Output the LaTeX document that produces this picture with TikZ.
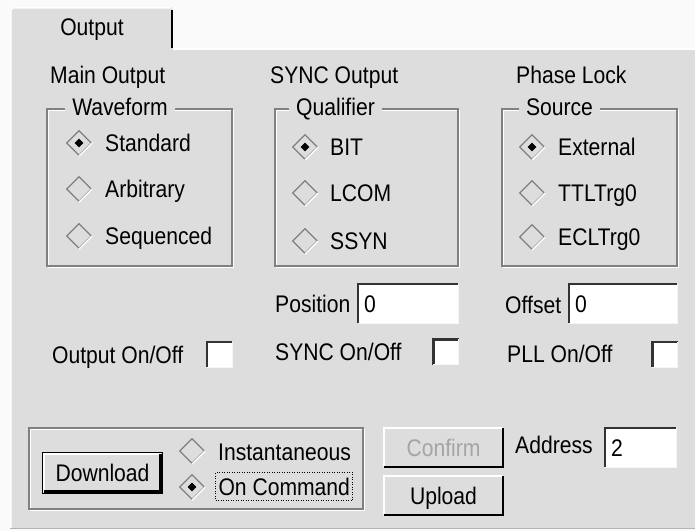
\documentclass[tikz,border=0pt]{standalone}
\usepackage{fontspec}
\setmainfont{Liberation Sans}[FakeStretch=0.88]
\usepackage{xcolor}
\usepackage{tikz}
\usetikzlibrary{shapes.geometric}

\definecolor{panelgray}{RGB}{221,221,221}
\definecolor{shadegray}{RGB}{128,128,128}
\definecolor{pagewhite}{RGB}{250,250,250}
\definecolor{edgelight}{RGB}{246,246,246}
\definecolor{dimtext}{RGB}{165,165,165}

\begin{document}
\begin{tikzpicture}[
x=1pt, y=-1pt,
every node/.style={font=\fontsize{24}{28}\selectfont},
textnode/.style={anchor=west, inner sep=0pt, text height=17.2pt, text depth=0pt},
titlenode/.style={textnode, anchor=center, fill=panelgray, inner xsep=7pt, inner ysep=3pt},
etchdark/.style={draw=shadegray, line width=1.2pt},
etchlight/.style={draw=white, line width=1.2pt},
radionode/.style={diamond, draw=shadegray, line width=1.2pt, inner sep=0pt,
  minimum size=25pt, text height=0pt, text depth=0pt,
  append after command={(\tikzlastnode.east) edge[draw=white, line width=1.5pt] (\tikzlastnode.south)}},
radioset/.style={radionode,
  append after command={node[diamond, fill=black, inner sep=0pt, minimum size=9pt] at (\tikzlastnode.center) {}}},
sunknode/.style={rectangle, fill=white, inner sep=0pt, text height=17.2pt, text depth=0pt,
  append after command={(\tikzlastnode.south west) edge[draw=black!80, line width=2.5pt, to path={|- (\tikztotarget)}] (\tikzlastnode.north east)
    (\tikzlastnode.south west) edge[draw=edgelight, line width=1.2pt, to path={-| (\tikztotarget)}] (\tikzlastnode.north east)}},
fieldnode/.style={sunknode, minimum height=39pt, text width=#1, inner xsep=6pt, align=left},
tickbox/.style={sunknode, minimum width=25pt, minimum height=25pt},
buttonnode/.style={rectangle, fill=panelgray, inner sep=0pt, text height=17.2pt, text depth=0pt,
  minimum width=119pt, minimum height=39pt,
  append after command={(\tikzlastnode.south west) edge[draw=white, line width=2pt, to path={|- (\tikztotarget)}] (\tikzlastnode.north east)
    (\tikzlastnode.south west) edge[draw=black, line width=2.5pt, to path={-| (\tikztotarget)}] (\tikzlastnode.north east)}},
defaultbutton/.style={buttonnode, minimum width=116pt, minimum height=37pt,
  append after command={([shift={(-1.5pt,-1.5pt)}]\tikzlastnode.south west) edge[draw=black, line width=1.2pt, to path={rectangle (\tikztotarget)}] ([shift={(1.5pt,1.5pt)}]\tikzlastnode.north east)}},
focusnode/.style={textnode, draw=black, line width=1pt, dash pattern=on 1pt off 1.5pt, inner xsep=3pt, inner ysep=5pt}
]

\useasboundingbox (0,0) rectangle (695,531);
\fill[pagewhite] (0,0) rectangle (695,531);

% panel and tab
\fill[panelgray] (10,48) rectangle (695,529);
\fill[panelgray] (10,48) -- (10,10) -- (13,7) -- (172,7) -- (172,48) -- cycle;
\draw[white, line width=1.5pt] (10.75,529) -- (10.75,10) -- (13.5,7.75) -- (171,7.75);
\draw[white, line width=1.5pt] (173,48.75) -- (695,48.75);
\draw[black, line width=2pt] (172,10) -- (172,48);
\draw[shadegray!60, line width=1.5pt] (10,528.5) -- (695,528.5);
\node[textnode, anchor=center] (tablabel) at (92,26.5) {Output};

% column headings
\node[textnode] (mainhead) at (50,75) {Main Output};
\node[textnode] (synchead) at (270,75) {SYNC Output};
\node[textnode] (phasehead) at (516,75) {Phase Lock};

% group frames
\draw[etchlight] (48.5,110.5) rectangle (233.5,267.5);
\draw[etchdark] (47,109) rectangle (232,266);
\draw[etchlight] (276.5,110.5) rectangle (459.5,267.5);
\draw[etchdark] (275,109) rectangle (458,266);
\draw[etchlight] (503.5,110.5) rectangle (678.5,267.5);
\draw[etchdark] (502,109) rectangle (677,266);
\draw[etchlight] (30.5,429.5) rectangle (364.5,510.5);
\draw[etchdark] (29,428) rectangle (363,509);

\node[titlenode] (wavetitle) at (120,107) {Waveform};
\node[titlenode] (qualtitle) at (335.5,107) {Qualifier};
\node[titlenode] (srctitle) at (559.5,107) {Source};

% waveform radios
\node[radioset] (stdradio) at (79,143) {};
\node[textnode] (stdlabel) at (105,143) {Standard};
\node[radionode] (arbradio) at (79,189) {};
\node[textnode] (arblabel) at (105,189) {Arbitrary};
\node[radionode] (seqradio) at (79,236) {};
\node[textnode] (seqlabel) at (105,236) {Sequenced};

% qualifier radios
\node[radioset] (bitradio) at (305,147) {};
\node[textnode] (bitlabel) at (330,147) {BIT};
\node[radionode] (lcomradio) at (305,193) {};
\node[textnode] (lcomlabel) at (330,193) {LCOM};
\node[radionode] (ssynradio) at (305,241) {};
\node[textnode] (ssynlabel) at (330,241) {SSYN};

% source radios
\node[radioset] (extradio) at (532,147) {};
\node[textnode] (extlabel) at (558,147) {External};
\node[radionode] (ttlradio) at (532,193) {};
\node[textnode] (ttllabel) at (558,193) {TTLTrg0};
\node[radionode] (eclradio) at (532,237) {};
\node[textnode] (ecllabel) at (558,237) {ECLTrg0};

% position and offset
\node[textnode] (poslabel) at (275,304) {Position};
\node[fieldnode=88pt] (posfield) at (408,303.5) {0};
\node[textnode] (offlabel) at (505,304.5) {Offset};
\node[fieldnode=96pt] (offfield) at (623,303.5) {0};

% on/off switches
\node[textnode] (outlabel) at (52,355) {Output On/Off};
\node[tickbox] (outtick) at (219.5,354.5) {};
\node[textnode] (synclabel) at (275,351.5) {SYNC On/Off};
\node[tickbox] (synctick) at (446,352) {};
\node[textnode] (plllabel) at (507,353.5) {PLL On/Off};
\node[tickbox] (plltick) at (665,354.5) {};

% download group
\node[defaultbutton] (download) at (102.5,473) {Download};
\node[radionode] (instradio) at (192,451) {};
\node[textnode] (instlabel) at (218,451.5) {Instantaneous};
\node[radioset] (cmdradio) at (192,487) {};
\node[focusnode] (cmdlabel) at (215,486.5) {On Command};

% buttons and address
\node[buttonnode, text=dimtext] (confirm) at (443.5,447.5) {Confirm};
\node[buttonnode] (upload) at (443.5,495.5) {Upload};
\node[textnode] (addrlabel) at (515,444.5) {Address};
\node[fieldnode=59pt] (addrfield) at (640.5,447.5) {2};

\end{tikzpicture}
\end{document}
